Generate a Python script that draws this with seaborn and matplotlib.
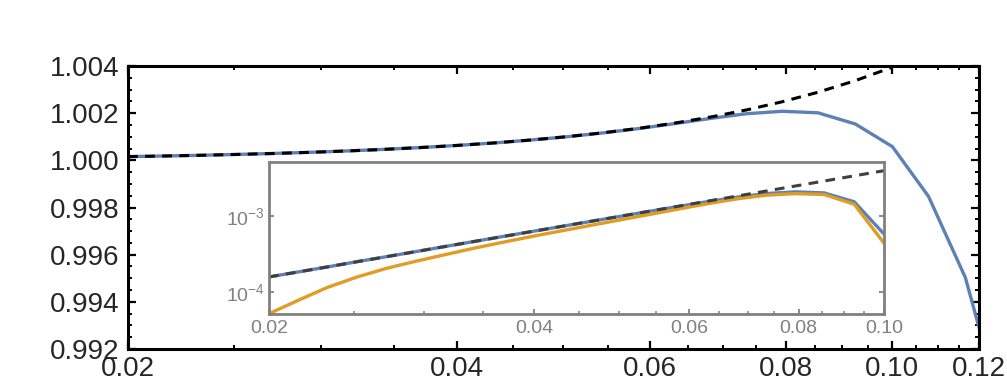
import numpy as np
import pandas as pd
import matplotlib
matplotlib.use("Agg")
import matplotlib.pyplot as plt
import seaborn as sns
from matplotlib.ticker import FixedLocator, FixedFormatter, NullFormatter

# ---- data ----
x_vals = [0.0200, 0.0216, 0.0233, 0.0252, 0.0272, 0.0294, 0.0317, 0.0343, 0.0370,
          0.0400, 0.0432, 0.0466, 0.0504, 0.0544, 0.0587, 0.0634, 0.0685, 0.0735,
          0.0793, 0.0855, 0.0925, 0.1000, 0.1079, 0.1166, 0.1259]
# main blue curve (ratio)
blue_main = [1.000158, 1.000184, 1.000214, 1.000251, 1.000292, 1.000341, 1.000397,
             1.000465, 1.000541, 1.000632, 1.000736, 1.000857, 1.001000, 1.001165,
             1.001350, 1.001565, 1.001790, 1.001975, 1.002080, 1.002015, 1.001540,
             1.000580, 0.998470, 0.995030, 0.989400]
# dashed reference (ratio), defined up to x = 0.10
dash_main = [1.000158, 1.000184, 1.000214, 1.000251, 1.000292, 1.000341, 1.000397,
             1.000465, 1.000541, 1.000632, 1.000737, 1.000858, 1.001003, 1.001169,
             1.001361, 1.001588, 1.001853, 1.002134, 1.002484, 1.002888, 1.003380,
             1.003950]
# inset: deviation from 1 (log scale)
inset_blue = [1.58e-4, 1.84e-4, 2.14e-4, 2.51e-4, 2.92e-4, 3.41e-4, 3.97e-4, 4.65e-4,
              5.41e-4, 6.32e-4, 7.36e-4, 8.57e-4, 1.000e-3, 1.165e-3, 1.350e-3,
              1.565e-3, 1.790e-3, 1.975e-3, 2.080e-3, 2.015e-3, 1.540e-3, 5.8e-4]
inset_orange = [5.2e-5, 7.8e-5, 1.15e-4, 1.58e-4, 2.05e-4, 2.55e-4, 3.10e-4, 3.80e-4,
                4.55e-4, 5.45e-4, 6.45e-4, 7.60e-4, 9.00e-4, 1.060e-3, 1.250e-3,
                1.470e-3, 1.700e-3, 1.880e-3, 1.970e-3, 1.920e-3, 1.430e-3, 4.4e-4]
inset_dash = [1.58e-4, 1.84e-4, 2.14e-4, 2.51e-4, 2.92e-4, 3.41e-4, 3.97e-4, 4.65e-4,
              5.41e-4, 6.32e-4, 7.37e-4, 8.58e-4, 1.003e-3, 1.169e-3, 1.361e-3,
              1.588e-3, 1.853e-3, 2.134e-3, 2.484e-3, 2.888e-3, 3.380e-3, 3.950e-3]

main_xticks = [0.02, 0.04, 0.06, 0.08, 0.10, 0.12]
main_xlabels = ["0.02", "0.04", "0.06", "0.08", "0.10", "0.12"]
main_yticks = [0.992, 0.994, 0.996, 0.998, 1.000, 1.002, 1.004]
main_ylabels = ["0.992", "0.994", "0.996", "0.998", "1.000", "1.002", "1.004"]
inset_xticks = [0.02, 0.04, 0.06, 0.08, 0.10]
inset_xlabels = ["0.02", "0.04", "0.06", "0.08", "0.10"]
inset_yticks = [1e-4, 1e-3]
inset_ylabels = [r"$\mathdefault{10^{-4}}$", r"$\mathdefault{10^{-3}}$"]

BLUE = "#5E81B5"
ORANGE = "#E19C24"
GRAY = "#808080"

sns.set_style("white")
plt.rcParams["font.family"] = ["Liberation Sans", "DejaVu Sans"]
plt.rcParams["mathtext.default"] = "regular"

fig = plt.figure(figsize=(10.07, 3.84), dpi=100)
W, H = 1007, 384
ax = fig.add_axes([128 / W, 1 - 349 / H, (979 - 128) / W, (349 - 66) / H])

n_dash = len(dash_main)
df_main = pd.DataFrame({"x": x_vals, "y": blue_main})
df_dash = pd.DataFrame({"x": x_vals[:n_dash], "y": dash_main})
sns.lineplot(data=df_main, x="x", y="y", ax=ax, color=BLUE, lw=2.4,
             estimator=None, sort=False)
sns.lineplot(data=df_dash, x="x", y="y", ax=ax, color="black", lw=2.2,
             estimator=None, sort=False, dashes=False)
ax.lines[-1].set_dashes([3.2, 2.4])

ax.set_xscale("log")
ax.set_xlim(0.02, 0.12)
ax.set_ylim(0.992, 1.004)
ax.xaxis.set_major_locator(FixedLocator(main_xticks))
ax.xaxis.set_major_formatter(FixedFormatter(main_xlabels))
ax.xaxis.set_minor_locator(FixedLocator([0.025, 0.03, 0.035, 0.045, 0.05, 0.055,
                                         0.065, 0.07, 0.075, 0.085, 0.09, 0.095,
                                         0.105, 0.11, 0.115]))
ax.xaxis.set_minor_formatter(NullFormatter())
ax.yaxis.set_major_locator(FixedLocator(main_yticks))
ax.yaxis.set_major_formatter(FixedFormatter(main_ylabels))
ax.yaxis.set_minor_locator(FixedLocator([0.9925, 0.993, 0.9935, 0.9945, 0.995, 0.9955,
                                         0.9965, 0.997, 0.9975, 0.9985, 0.999, 0.9995,
                                         1.0005, 1.001, 1.0015, 1.0025, 1.003, 1.0035]))
ax.set_xlabel("")
ax.set_ylabel("")
for s in ax.spines.values():
    s.set_linewidth(2.2)
    s.set_color("black")
    s.set_visible(True)
ax.tick_params(which="both", direction="in", top=True, right=True, bottom=True,
               left=True, color="black")
ax.tick_params(which="major", length=5.5, width=1.6, labelsize=20, pad=6)
ax.tick_params(axis="x", which="major", pad=5)
ax.tick_params(which="minor", length=3, width=1.4)

# ---- inset ----
axi = fig.add_axes([269 / W, 1 - 314 / H, (884 - 269) / W, (314 - 162) / H])
n_in = len(inset_blue)
df_ib = pd.DataFrame({"x": x_vals[:n_in], "y": inset_blue})
df_io = pd.DataFrame({"x": x_vals[:n_in], "y": inset_orange})
df_id = pd.DataFrame({"x": x_vals[:n_in], "y": inset_dash})
sns.lineplot(data=df_ib, x="x", y="y", ax=axi, color=BLUE, lw=2.4,
             estimator=None, sort=False)
sns.lineplot(data=df_io, x="x", y="y", ax=axi, color=ORANGE, lw=2.4,
             estimator=None, sort=False)
sns.lineplot(data=df_id, x="x", y="y", ax=axi, color="#3f3f3f", lw=2.2,
             estimator=None, sort=False)
axi.lines[-1].set_dashes([3.2, 2.4])
axi.set_xscale("log")
axi.set_yscale("log")
axi.set_xlim(0.02, 0.10)
axi.set_ylim(5.14e-5, 5.14e-3)
axi.xaxis.set_major_locator(FixedLocator(inset_xticks))
axi.xaxis.set_major_formatter(FixedFormatter(inset_xlabels))
axi.xaxis.set_minor_locator(FixedLocator([0.025, 0.03, 0.035, 0.045, 0.05, 0.055,
                                          0.065, 0.07, 0.075, 0.085, 0.09, 0.095]))
axi.xaxis.set_minor_formatter(NullFormatter())
axi.yaxis.set_major_locator(FixedLocator(inset_yticks))
axi.yaxis.set_major_formatter(FixedFormatter(inset_ylabels))
axi.yaxis.set_minor_locator(FixedLocator([]))
axi.set_xlabel("")
axi.set_ylabel("")
axi.set_facecolor("white")
for s in axi.spines.values():
    s.set_linewidth(2.0)
    s.set_color(GRAY)
    s.set_visible(True)
axi.tick_params(which="both", direction="in", top=False, right=True, bottom=True,
                left=True, color=GRAY, labelcolor=GRAY)
axi.tick_params(which="major", length=3.5, width=1.3, labelsize=14, pad=3)
axi.tick_params(axis="x", which="major", pad=4)
axi.tick_params(which="minor", length=2, width=1.1)

fig.savefig("out.png", dpi=100)
